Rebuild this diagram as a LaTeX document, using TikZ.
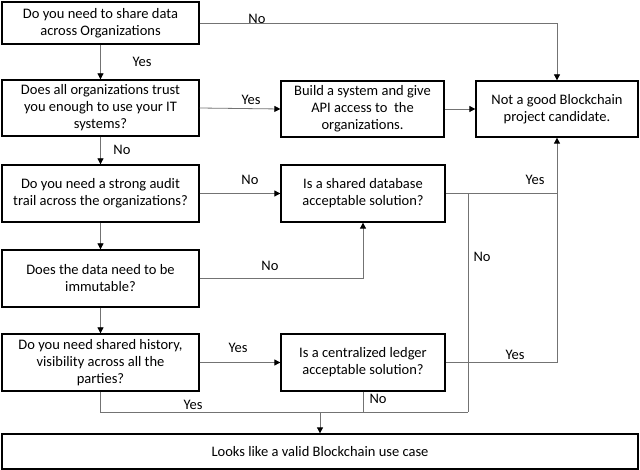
\documentclass[tikz,border=0pt]{standalone}
\usepackage{fontspec}
\setmainfont{Carlito}
\usetikzlibrary{arrows.meta}
\begin{document}
\begin{tikzpicture}[x=1pt,y=-1pt,
  box/.style={draw=black,line width=1.3pt,fill=white,align=center,inner sep=0pt,font=\fontsize{14.5}{17}\selectfont},
  conn/.style={draw=black!55,line width=0.8pt},
  arr/.style={conn,-{Triangle[width=6pt,length=6pt,color=black]}},
  lbl/.style={font=\fontsize{14.5}{16}\selectfont,inner sep=0pt}]
\useasboundingbox (0,0) rectangle (640,470);
\node[box,minimum width=197pt,minimum height=42pt] (b1) at (100.5,23) {Do you need to share data\\across Organizations};
\node[box,minimum width=197pt,minimum height=56pt] (b2) at (100.5,108) {Does all organizations trust\\you enough to use your IT\\systems?};
\node[box,minimum width=163pt,minimum height=56pt] (b3) at (362.5,109) {Build a system and give\\API access to\ \ the\\organizations.};
\node[box,minimum width=162pt,minimum height=56pt] (b4) at (557,109) {Not a good Blockchain\\project candidate.};
\node[box,minimum width=197pt,minimum height=57pt] (b5) at (100.5,193.5) {Do you need a strong audit\\trail across the organizations?};
\node[box,minimum width=164pt,minimum height=57pt] (b6) at (363,193.5) {Is a shared database\\acceptable solution?};
\node[box,minimum width=197pt,minimum height=57pt] (b7) at (100.5,278.5) {Does the data need to be\\immutable?};
\node[box,minimum width=197pt,minimum height=57pt] (b8) at (100.5,362.5) {Do you need shared history,\\visibility across all the\\parties?};
\node[box,minimum width=164pt,minimum height=57pt] (b9) at (363,362.5) {Is a centralized ledger\\acceptable solution?};
\node[box,minimum width=636pt,minimum height=35pt] (b10) at (320,451.5) {Looks like a valid Blockchain use case};
\coordinate (j1) at (468,193.5);
\coordinate (j2) at (468,412);
\coordinate (j3) at (557,193.5);
% connectors
\draw[arr] (b1.east) -| (b4.north);
\draw[arr] (b1.south) -- (b2.north);
\draw[arr] (b2.east) -- (b3.west);
\draw[arr] (b3.east) -- (b4.west);
\draw[arr] (b2.south) -- (b5.north);
\draw[arr] (b5.east) -- (b6.west);
\draw[arr] (b5.south) -- (b7.north);
\draw[arr] (b7.east) -| (b6.south);
\draw[arr] (b6.east) -| (b4.south);
\draw[conn] (j1) -- (j2);
\draw[conn] (b9.east) -| (j3);
\draw[arr] (b7.south) -- (b8.north);
\draw[arr] (b8.east) -- (b9.west);
\draw[conn] (b8.south) |- (j2);
\draw[conn] (b9.south) -- (b9.south |- j2);
\draw[arr] (b10.north |- j2) -- (b10.north);
% labels
\node[lbl] (l1) at (257,19) {No};
\node[lbl] (l2) at (142,62) {Yes};
\node[lbl] (l3) at (251,100) {Yes};
\node[lbl] (l4) at (122,150) {No};
\node[lbl] (l5) at (250,180) {No};
\node[lbl] (l6) at (270,266) {No};
\node[lbl] (l7) at (535,180) {Yes};
\node[lbl] (l8) at (482,257) {No};
\node[lbl] (l9) at (238,348) {Yes};
\node[lbl] (l10) at (515,355) {Yes};
\node[lbl] (l11) at (378,399) {No};
\node[lbl] (l12) at (193,405) {Yes};
\end{tikzpicture}
\end{document}
